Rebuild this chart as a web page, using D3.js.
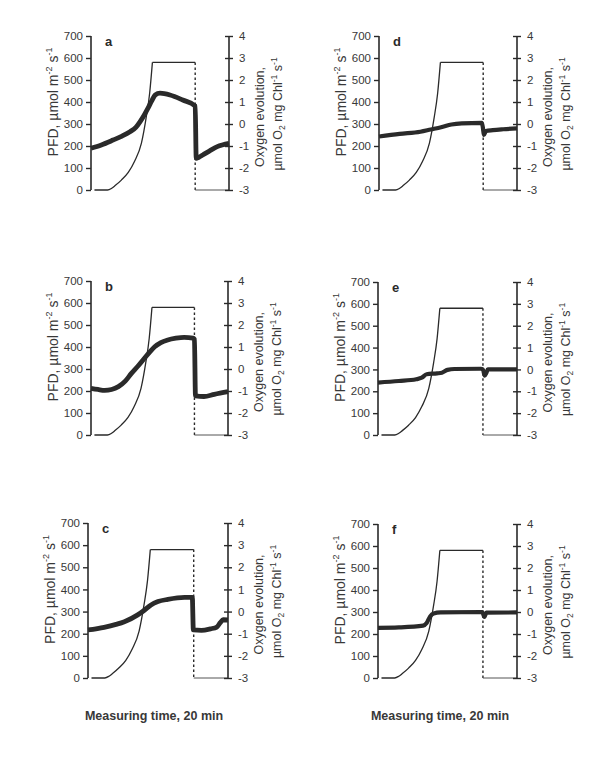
<!DOCTYPE html>
<html><head><meta charset="utf-8">
<script src="https://cdn.jsdelivr.net/npm/d3@7"></script>
<style>body{margin:0;background:#fff}</style>
</head><body>
<svg id="chart" width="600" height="760"></svg>
<script>
// ---------- data ----------
const panelIds = ["a", "b", "c", "d", "e", "f"];
const pfdTicks = [0, 100, 200, 300, 400, 500, 600, 700];
const oxyTicks = [-3, -2, -1, 0, 1, 2, 3, 4];
const timeDomain = [0, 20]; // minutes
const xAxisTitle = "Measuring time, 20 min";

// light (PFD) protocol, µmol m-2 s-1
const lightTime = [0.5, 2.4, 3.0, 3.5, 4.4, 5.4, 6.3, 7.3, 8.0, 8.5, 8.9];
const lightPFD  = [0,   0,   8,   20,  45,  80,  130, 212, 330, 440, 580];
const lightPlateau = 580;
const lightOffTime = 15.1;

// oxygen evolution, µmol O2 mg Chl-1 s-1
const timeA = [0, 1.5, 3.2, 4.5, 5.65, 6.5, 7.1, 7.7, 8.26, 8.8, 9.3, 10, 11.45, 13.3, 15.1, 15.25, 15.6, 16.2, 17.2, 18.3, 20];
const oxyA  = [-1.10, -0.95, -0.73, -0.55, -0.35, -0.15, 0.10, 0.40, 0.72, 1.05, 1.32, 1.40, 1.32, 1.09, 0.82, -1.56, -1.52, -1.41, -1.22, -1.03, -0.88];

const timeB = [0, 1, 2, 3, 4, 5, 5.9, 6.9, 7.8, 8.6, 9.3, 10.2, 11.2, 12.4, 13.6, 14.9, 15.1, 15.25, 16.5, 18, 20];
const oxyB  = [-0.88, -0.93, -0.97, -0.93, -0.80, -0.55, -0.20, 0.15, 0.49, 0.78, 1.01, 1.20, 1.32, 1.40, 1.44, 1.40, 1.35, -1.22, -1.25, -1.15, -1.03];

const timeC = [0, 2.3, 4, 5.2, 7.1, 8, 9, 10, 11.4, 13.8, 14.9, 15.05, 16.2, 17.5, 18.4, 18.9, 19.3, 20];
const oxyC  = [-0.83, -0.71, -0.58, -0.46, -0.15, 0.05, 0.30, 0.45, 0.55, 0.64, 0.64, -0.83, -0.85, -0.78, -0.70, -0.50, -0.37, -0.38];

const timeD = [0, 3, 6, 7.5, 9, 10.5, 12, 14.9, 15.05, 15.2, 15.5, 16.5, 18, 20];
const oxyD  = [-0.57, -0.45, -0.35, -0.25, -0.15, -0.02, 0.03, 0.05, -0.15, -0.50, -0.32, -0.28, -0.24, -0.20];

const timeE = [0, 3, 5.5, 6.3, 7.0, 8.5, 9.2, 10, 11, 14.8, 15.1, 15.35, 15.6, 15.8, 20];
const oxyE  = [-0.60, -0.53, -0.45, -0.38, -0.22, -0.18, -0.15, -0.02, 0.02, 0.03, 0, -0.28, -0.15, 0, 0];

const timeF = [0, 3, 6.5, 7.0, 7.5, 8.0, 9, 15.0, 15.3, 15.6, 20];
const oxyF  = [-0.72, -0.70, -0.62, -0.50, -0.20, -0.07, -0.02, 0, -0.22, -0.03, -0.02];

// ---------- layout ----------
const layout = {
  a: {x0: 91, x1: 229, y0: 36,  y1: 190},
  b: {x0: 91, x1: 228, y0: 281, y1: 435},
  c: {x0: 88, x1: 228, y0: 523, y1: 678},
  d: {x0: 379, x1: 517, y0: 36,  y1: 190},
  e: {x0: 378, x1: 517, y0: 282, y1: 435},
  f: {x0: 378, x1: 517, y0: 524, y1: 678}
};
const oxySeries = {a: [timeA, oxyA], b: [timeB, oxyB], c: [timeC, oxyC],
                   d: [timeD, oxyD], e: [timeE, oxyE], f: [timeF, oxyF]};

const FONT = "'Liberation Sans', Arial, sans-serif";
const INK = "#2a2a2a";
const TXT = "#383838";
const svg = d3.select("#chart");
svg.append("rect").attr("width", 600).attr("height", 760).attr("fill", "#fff");

panelIds.forEach(id => {
  const L = layout[id];
  const x = d3.scaleLinear().domain(timeDomain).range([L.x0, L.x1]);
  const yL = d3.scaleLinear().domain([0, 700]).range([L.y1, L.y0]);
  const yR = d3.scaleLinear().domain([-3, 4]).range([L.y1, L.y0]);
  const g = svg.append("g");

  // light curve
  const riseLine = d3.line().x((d, i) => x(lightTime[i])).y(d => yL(d)).curve(d3.curveMonotoneX);
  g.append("path").attr("d", riseLine(lightPFD))
    .attr("fill", "none").attr("stroke", INK).attr("stroke-width", 1.3);
  g.append("line")
    .attr("x1", x(lightTime[lightTime.length - 1])).attr("x2", x(lightOffTime))
    .attr("y1", yL(lightPlateau)).attr("y2", yL(lightPlateau))
    .attr("stroke", INK).attr("stroke-width", 1.3);
  g.append("line")
    .attr("x1", x(lightOffTime)).attr("x2", x(lightOffTime))
    .attr("y1", yL(lightPlateau)).attr("y2", yL(0))
    .attr("stroke", INK).attr("stroke-width", 1.4).attr("stroke-dasharray", "2.5,2.5");
  g.append("line")
    .attr("x1", x(lightOffTime)).attr("x2", x(timeDomain[1]))
    .attr("y1", yL(0)).attr("y2", yL(0))
    .attr("stroke", "#555").attr("stroke-width", 1);

  // oxygen curve
  const [tt, vv] = oxySeries[id];
  const oxyLine = d3.line().x((d, i) => x(tt[i])).y(d => yR(d)).curve(d3.curveMonotoneX);
  g.append("path").attr("d", oxyLine(vv))
    .attr("fill", "none").attr("stroke", INK)
    .attr("stroke-width", id <= "c" ? 4.8 : 4.2)
    .attr("stroke-linejoin", "round").attr("stroke-linecap", "butt");

  // left axis
  const axL = g.append("g").attr("transform", `translate(${L.x0},0)`)
    .call(d3.axisLeft(yL).tickValues(pfdTicks).tickSize(5).tickPadding(3).tickFormat(d => String(d)));
  // right axis
  const axR = g.append("g").attr("transform", `translate(${L.x1},0)`)
    .call(d3.axisRight(yR).tickValues(oxyTicks).tickSize(4).tickPadding(6).tickFormat(d => String(d)));
  axR.selectAll(".tick line").attr("x1", -4);
  [axL, axR].forEach(ax => {
    ax.select(".domain").attr("stroke", INK).attr("stroke-width", 1.6);
    ax.selectAll(".tick line").attr("stroke", INK).attr("stroke-width", 1.4);
    ax.selectAll("text").attr("font-family", FONT).attr("font-size", 11.5).attr("fill", TXT);
  });
  axL.select(".domain").attr("d", `M0,${L.y1}V${L.y0}`);
  axR.select(".domain").attr("d", `M0,${L.y1}V${L.y0}`);

  // panel letter
  g.append("text").attr("x", L.x0 + 14).attr("y", L.y0 + 10)
    .attr("font-family", FONT).attr("font-weight", "bold").attr("font-size", 13)
    .attr("fill", INK).text(id);

  // left title
  const mid = (L.y0 + L.y1) / 2;
  const lt = g.append("text")
    .attr("transform", `translate(${L.x0 - 33},${mid - 11}) rotate(-90)`)
    .attr("text-anchor", "middle").attr("font-family", FONT).attr("font-size", 14).attr("fill", TXT);
  lt.append("tspan").text("PFD, µmol m");
  lt.append("tspan").attr("font-size", 9).attr("dy", -6).text("-2");
  lt.append("tspan").attr("dy", 6).text(" s");
  lt.append("tspan").attr("font-size", 9).attr("dy", -6).text("-1");

  // right title
  g.append("text")
    .attr("transform", `translate(${L.x1 + 35},${mid + 4}) rotate(-90)`)
    .attr("text-anchor", "middle").attr("font-family", FONT).attr("font-size", 12.5).attr("fill", TXT)
    .text("Oxygen evolution,");
  const rt2 = g.append("text")
    .attr("transform", `translate(${L.x1 + 53},${mid + 1}) rotate(-90)`)
    .attr("text-anchor", "middle").attr("font-family", FONT).attr("font-size", 12.5).attr("fill", TXT);
  rt2.append("tspan").text("µmol O");
  rt2.append("tspan").attr("font-size", 8.5).attr("dy", 3).text("2");
  rt2.append("tspan").attr("dy", -3).text(" mg Chl");
  rt2.append("tspan").attr("font-size", 8.5).attr("dy", -5).text("-1");
  rt2.append("tspan").attr("dy", 5).text(" s");
  rt2.append("tspan").attr("font-size", 8.5).attr("dy", -5).text("-1");
});

// bottom titles
[{cx: 154}, {cx: 440}].forEach(p => {
  svg.append("text").attr("x", p.cx).attr("y", 720).attr("text-anchor", "middle")
    .attr("font-family", FONT).attr("font-weight", "bold").attr("font-size", 12.5)
    .attr("fill", TXT).text(xAxisTitle);
});
</script>
</body></html>
